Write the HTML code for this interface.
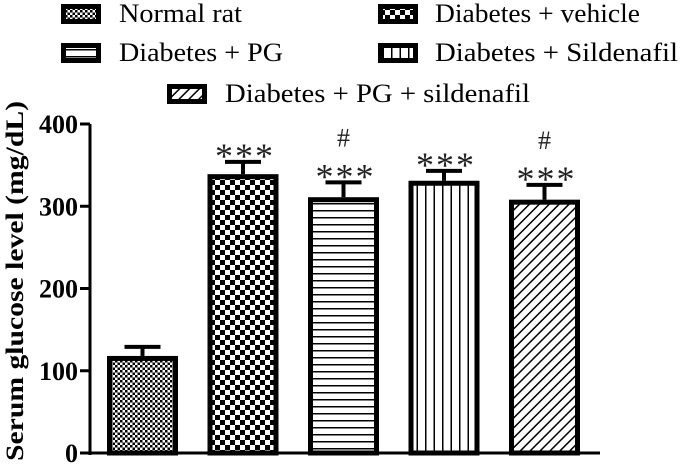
<!DOCTYPE html>
<html><head><meta charset="utf-8"><style>
html,body{margin:0;padding:0;background:#fff;width:680px;height:465px;overflow:hidden}
svg text{font-family:"Liberation Serif",serif}
</style></head><body>
<svg id="chart" width="680" height="465">
<defs>
<pattern id="p0" width="5" height="5" patternUnits="userSpaceOnUse"><rect width="5" height="5" fill="#fff"/><rect width="2.5" height="2.5" fill="#000"/><rect x="2.5" y="2.5" width="2.5" height="2.5" fill="#000"/></pattern>
<pattern id="p1" width="10" height="10" patternUnits="userSpaceOnUse"><rect width="10" height="10" fill="#fff"/><rect width="5" height="5" fill="#000"/><rect x="5" y="5" width="5" height="5" fill="#000"/></pattern>
<pattern id="p2" width="6" height="7" patternUnits="userSpaceOnUse"><rect width="6" height="7" fill="#fff"/><rect y="0" width="6" height="1.5" fill="#000"/></pattern>
<pattern id="p3" width="8.5" height="6" patternUnits="userSpaceOnUse"><rect width="8.5" height="6" fill="#fff"/><rect x="0" width="1.5" height="6" fill="#000"/></pattern>
<pattern id="p4" width="7" height="7" patternUnits="userSpaceOnUse" patternTransform="rotate(45)"><rect width="7" height="7" fill="#fff"/><rect width="1.5" height="7" fill="#000"/></pattern>
</defs>
<g id="legend"></g>
<g id="axis"></g>
<g id="bars"></g>
<text transform="translate(23,281) rotate(-90)" text-anchor="middle" font-size="25" font-weight="bold" textLength="360" lengthAdjust="spacingAndGlyphs">Serum glucose level (mg/dL)</text>
</svg>
<script>
const categories=["Normal rat","Diabetes + vehicle","Diabetes + PG","Diabetes + Sildenafil","Diabetes + PG + sildenafil"];
const means=[118,339,311,331,308];
const errors=[11,15,18,12,18];
const stars=["","***","***","***","***"];
const hashes=["","","#","","#"];
const yTicks=[0,100,200,300,400];
const NS="http://www.w3.org/2000/svg";
const y0=453,y1=124,yMax=400;
const yScale=v=>y0-(v/yMax)*(y0-y1);
const xScale=i=>107+i*100.5;
const bw=71;
function mk(tag,attrs,parent){const e=document.createElementNS(NS,tag);for(const k in attrs)e.setAttribute(k,attrs[k]);parent.appendChild(e);return e;}
const ax=document.getElementById('axis');
let l=mk('line',{x1:90,y1:y1,x2:90,y2:y0+2,stroke:'#000','stroke-width':3},ax);


l=mk('line',{x1:80,y1:y0,x2:600,y2:y0,stroke:'#000','stroke-width':3},ax);


yTicks.forEach(t=>{
  const y=yScale(t);
  const tk=mk('line',{x1:80,y1:y,x2:90,y2:y,stroke:'#000','stroke-width':3},ax);
  
  
  const tx=mk('text',{x:78,y:y+9,'text-anchor':'end','font-size':26,'font-weight':'bold'},ax);
  tx.textContent=t;
  
  
});
const bg=document.getElementById('bars');
means.forEach((m,i)=>{
  const x=xScale(i),top=yScale(m),et=yScale(m+errors[i]),cx=x+bw/2;
  const e=mk('line',{x1:cx,y1:top,x2:cx,y2:et,stroke:'#000','stroke-width':4},bg);
  
  
  const c=mk('line',{x1:cx-18,y1:et,x2:cx+18,y2:et,stroke:'#000','stroke-width':4},bg);
  
  
  const r=mk('rect',{x:x+2.5,y:top+2.5,width:bw-5,height:y0-top-2.5,fill:'url(#p'+i+')',stroke:'#000','stroke-width':5},bg);
  
  
  if(stars[i]){
    const s=mk('text',{x:cx+2,y:et+6,'text-anchor':'middle','font-size':36,'letter-spacing':'2','fill':'#222'},bg);
    s.textContent=stars[i];
    
    
  }
  if(hashes[i]){
    const h=mk('text',{x:cx,y:et-36,'text-anchor':'middle','font-size':26,'fill':'#222'},bg);
    h.textContent=hashes[i];
    
    
  }
});
const lg=document.getElementById('legend');
const lpos=[[61,4,119,123],[378,4,435,205],[61,43,119,164],[378,43,435,243],[167,84,225,305]];
categories.forEach((c,i)=>{
  const [x,y,tx,tl]=lpos[i];
  const g=mk('g',{},lg);
  
  
  mk('rect',{x:x+2.5,y:y+2.5,width:35,height:15,fill:'url(#p'+i+')',stroke:'#000','stroke-width':5},g);
  const t=mk('text',{x:tx,y:y+18,'font-size':26,textLength:tl,lengthAdjust:'spacingAndGlyphs'},g);
  t.textContent=c;
});
</script>
</body></html>
